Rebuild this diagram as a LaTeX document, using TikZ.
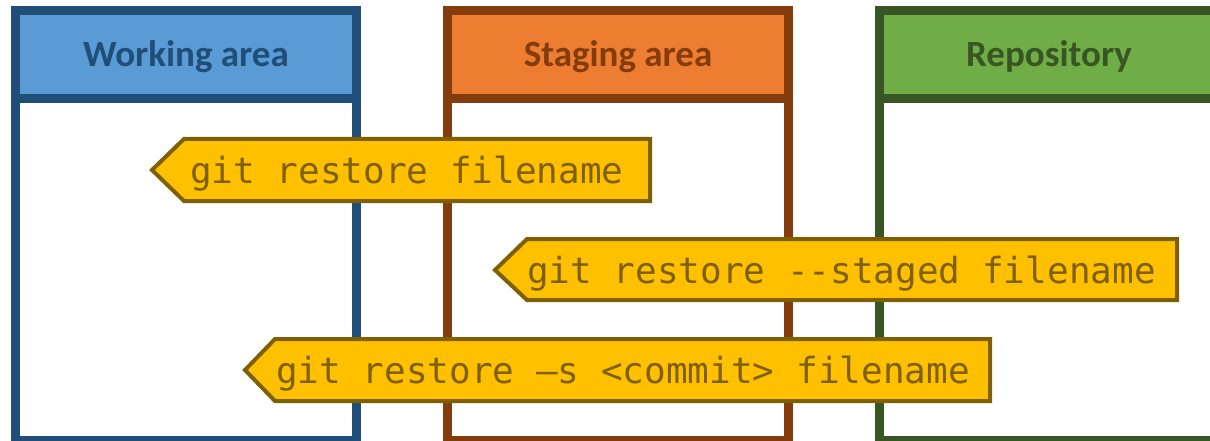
\documentclass[tikz,border=0pt]{standalone}
\usepackage{fontspec}
\setmainfont{Carlito}
\newfontfamily\codefont{DejaVu Sans Mono}
\usetikzlibrary{positioning}

\definecolor{workfill}{HTML}{5B9BD5}
\definecolor{workline}{HTML}{1F4E79}
\definecolor{stagefill}{HTML}{ED7D31}
\definecolor{stageline}{HTML}{843C0C}
\definecolor{repofill}{HTML}{70AD47}
\definecolor{repoline}{HTML}{375623}
\definecolor{cmdfill}{HTML}{FFC000}
\definecolor{cmdline}{HTML}{7F6000}

\tikzset{
  area/.style={line width=9pt, fill=white},
  areahead/.style={line width=9pt},
  areatitle/.style={font=\fontsize{37}{40}\selectfont\bfseries, inner sep=0pt, anchor=base},
  cmdtag/.style={draw=cmdline, fill=cmdfill, line width=4pt, line join=miter},
  cmdtext/.style={font=\codefont\fontsize{36}{40}\selectfont, text=cmdline,
    anchor=base west, inner sep=0pt}
}

\begin{document}
\begin{tikzpicture}[x=1pt, y=-1pt]
  \useasboundingbox (0,0) rectangle (1210,441);
  \clip (0,0) rectangle (1210,441);

  % the three areas
  \draw[area, draw=workline] (15.5,10.5) rectangle (356.5,440);
  \draw[areahead, draw=workline, fill=workfill] (15.5,10.5) rectangle (356.5,98.5);
  \node[areatitle, text=workline] (work) at (186,66.5) {Working area};

  \draw[area, draw=stageline] (447.5,10.5) rectangle (788.5,440);
  \draw[areahead, draw=stageline, fill=stagefill] (447.5,10.5) rectangle (788.5,98.5);
  \node[areatitle, text=stageline] (stage) at (618,66.5) {Staging area};

  \draw[area, draw=repoline] (879,10.5) rectangle (1230,440);
  \draw[areahead, draw=repoline, fill=repofill] (879,10.5) rectangle (1230,98.5);
  \node[areatitle, text=repoline] (repo) at (1049,66.5) {Repository};

  % restore commands, pointing left
  \draw[cmdtag] (152,170) -- (184,139) -- (650,139) -- (650,201) -- (184,201) -- cycle;
  \node[cmdtext] (restore) at (190,183) {git restore filename};

  \draw[cmdtag] (495,270) -- (527,239) -- (1177,239) -- (1177,300) -- (527,300) -- cycle;
  \node[cmdtext] (staged) at (527,283) {git restore -{}-staged filename};

  \draw[cmdtag] (245,370) -- (275,339) -- (990,339) -- (990,401) -- (275,401) -- cycle;
  \node[cmdtext] (source) at (276,383) {git restore –s <commit> filename};
\end{tikzpicture}
\end{document}
